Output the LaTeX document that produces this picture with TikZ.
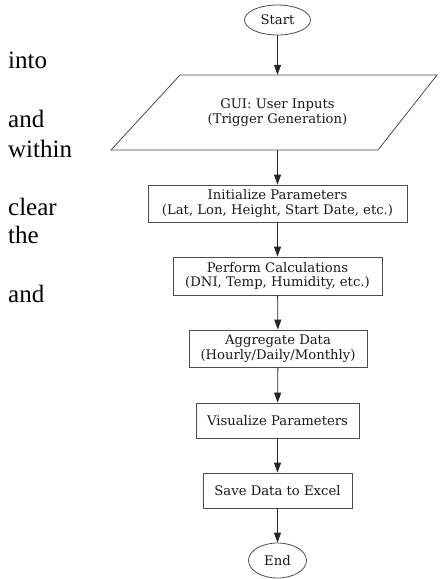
\documentclass[tikz,border=0pt]{standalone}
\usepackage{fontspec}
\setmainfont{Liberation Serif}
\newfontfamily\flowfont{DejaVu Serif}
\usetikzlibrary{arrows.meta,shapes.geometric}
\tikzset{
  flowtext/.style={font=\flowfont\fontsize{13.2}{14.8}\selectfont, text=black!90},
  boxnode/.style={draw=black!70, line width=0.8pt, rectangle, inner sep=0pt, align=center, flowtext},
  ovalnode/.style={draw=black!70, line width=0.8pt, ellipse, inner sep=0pt, align=center, flowtext},
  textonly/.style={inner sep=0pt, align=center, flowtext},
  flow/.style={draw=black!85, line width=0.8pt, -{Triangle[length=10pt,width=7pt]}},
  sidetext/.style={inner sep=0pt, anchor=base west, font=\fontsize{25}{29}\selectfont, text=black}
}
\begin{document}
\begin{tikzpicture}[x=1pt,y=-1pt]
\useasboundingbox (0,0) rectangle (441,579);
% side text
\node[sidetext] (t1) at (8,68) {into};
\node[sidetext] (t2) at (8,127) {and};
\node[sidetext] (t3) at (8,157) {within};
\node[sidetext] (t4) at (8,215) {clear};
\node[sidetext] (t5) at (8,243) {the};
\node[sidetext] (t6) at (8,302) {and};
% flowchart
\node[ovalnode, minimum width=66pt, minimum height=30pt] (start) at (277.5,20) {Start};
\node[textonly, minimum width=190pt, minimum height=75pt] (gui) at (277.5,112.5) {GUI: User Inputs\\(Trigger Generation)};
\draw[draw=black!70, line width=0.8pt] (180,75) -- (437,75) -- (378,150) -- (111,150) -- cycle;
\node[boxnode, minimum width=259pt, minimum height=37pt] (init) at (277.5,203.5) {Initialize Parameters\\(Lat, Lon, Height, Start Date, etc.)};
\node[boxnode, minimum width=209pt, minimum height=38pt] (calc) at (277.5,276) {Perform Calculations\\(DNI, Temp, Humidity, etc.)};
\node[boxnode, minimum width=178pt, minimum height=37pt] (agg) at (278,348.5) {Aggregate Data\\(Hourly/Daily/Monthly)};
\node[boxnode, minimum width=163pt, minimum height=35pt] (vis) at (277.5,420.5) {Visualize Parameters};
\node[boxnode, minimum width=149pt, minimum height=35pt] (save) at (277.5,490.5) {Save Data to Excel};
\node[ovalnode, minimum width=58pt, minimum height=35pt] (end) at (277.5,560.5) {End};
\draw[flow] (start) -- (gui.north);
\draw[flow] (gui.south) -- (init);
\draw[flow] (init) -- (calc);
\draw[flow] (calc) -- (agg);
\draw[flow] (agg) -- (vis);
\draw[flow] (vis) -- (save);
\draw[flow] (save) -- (end);
\end{tikzpicture}
\end{document}
